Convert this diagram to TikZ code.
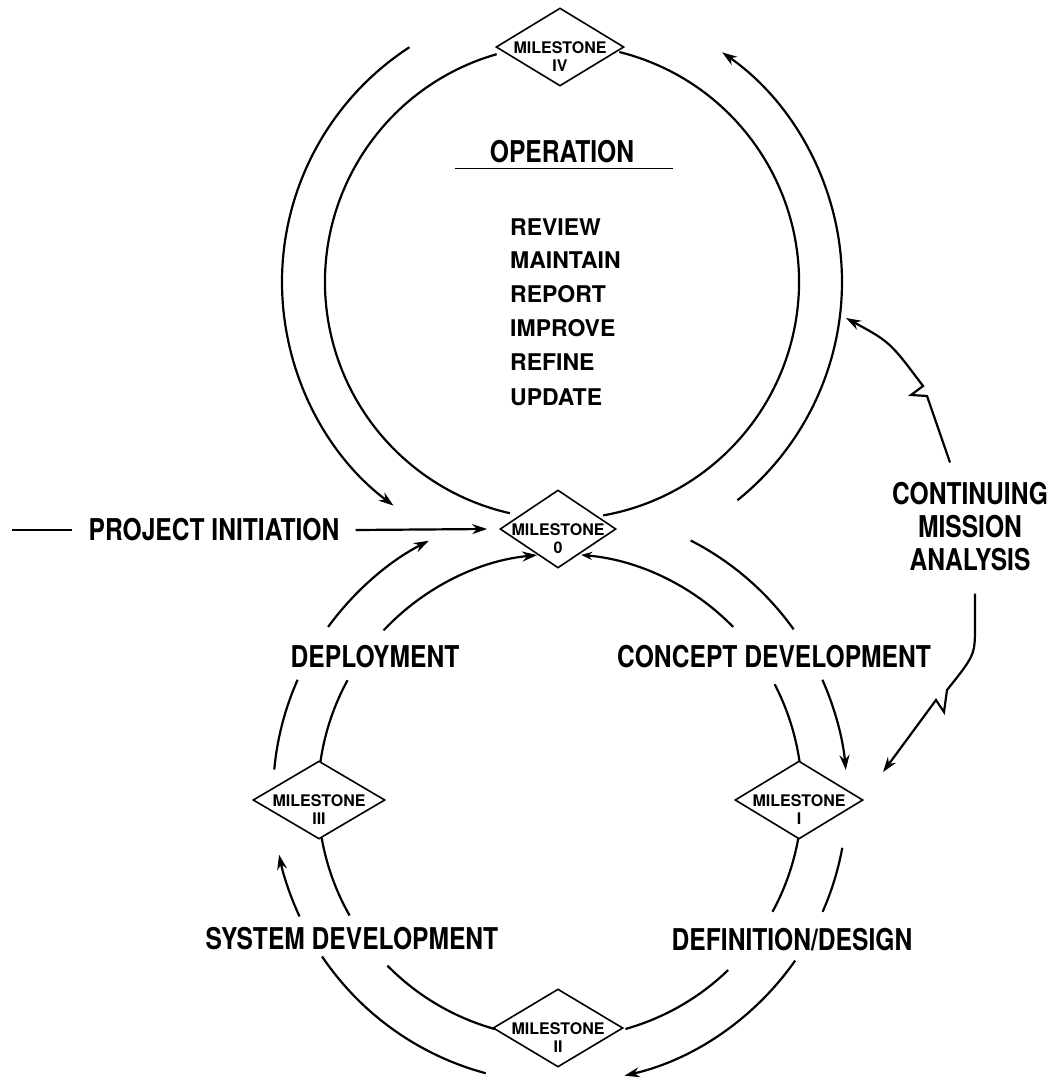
\documentclass[tikz,border=0pt]{standalone}
\usepackage{fontspec}
\usetikzlibrary{shapes.geometric,arrows.meta}
\newfontfamily\hvcond{TeX Gyre Heros}[FakeStretch=0.82]
\newfontfamily\hvnorm{TeX Gyre Heros}
\newcommand\biglab{\hvcond\bfseries\fontsize{30}{33}\selectfont}
\newcommand\lstlab{\hvnorm\bfseries\fontsize{23}{26}\selectfont}
\newcommand\mslab{\hvnorm\bfseries\fontsize{16}{18}\selectfont}
\begin{document}
\begin{tikzpicture}[x=1pt,y=-1pt,
  trk/.style={line width=2.2pt},
  arr/.style={trk,-{Stealth[length=15pt,width=10pt]}},
  rarr/.style={trk,{Stealth[length=11pt,width=8pt]}-},
  ms/.style={draw,diamond,minimum width=128pt,minimum height=78pt,inner sep=0pt,line width=1.6pt},
  mst/.style={font=\mslab,align=center,inner sep=0pt,anchor=base,yshift=-24pt},
  big/.style={font=\biglab,inner sep=0pt},
  lst/.style={font=\lstlab,anchor=west,inner sep=0pt}]
\useasboundingbox (0,0) rectangle (1052,1082);
\coordinate (U) at (562,282);
\coordinate (L) at (560,796);

% milestones
\node[ms] (m4) at (560,47) {};
\node[mst] (m4t) at (m4) {MILESTONE\\IV};
\node[ms,minimum width=116pt] (m0) at (558,529) {};
\node[mst] (m0t) at (m0) {MILESTONE\\0};
\node[ms] (m1) at (799,800) {};
\node[mst] (m1t) at (m1) {MILESTONE\\I};
\node[ms,minimum width=132pt] (m3) at (319,800) {};
\node[mst] (m3t) at (m3) {MILESTONE\\III};
\node[ms,minimum width=130pt] (m2) at (558,1028) {};
\node[mst] (m2t) at (m2) {MILESTONE\\II};

% operation box text
\node[big] (op) at (562,152) {OPERATION};
\draw[line width=1.6pt] ([xshift=-35pt,yshift=-5pt]op.south west) -- ([xshift=39pt,yshift=-5pt]op.south east);
\node[lst] (l1) at (510,227) {REVIEW};
\node[lst] (l2) at (510,260) {MAINTAIN};
\node[lst] (l3) at (510,294) {REPORT};
\node[lst] (l4) at (510,328) {IMPROVE};
\node[lst] (l5) at (510,362) {REFINE};
\node[lst] (l6) at (510,397) {UPDATE};

% phase labels
\node[big] (pi) at (214,530) {PROJECT INITIATION};
\node[big] (dep) at (375,657) {DEPLOYMENT};
\node[big] (cd) at (774,657) {CONCEPT DEVELOPMENT};
\node[big] (sd) at (352,939) {SYSTEM DEVELOPMENT};
\node[big] (dd) at (792,940) {DEFINITION/DESIGN};
\node[big,align=center] (cma) at (970,527) {CONTINUING\\MISSION\\ANALYSIS};

% project initiation
\coordinate (pil) at (12,530);
\draw[trk] (pil) -- ([xshift=-16pt]pi.west);
\draw[arr] ([xshift=16pt]pi.east) -- ([xshift=-12pt]m0.west);

% upper loop, inner track
\draw[trk] (U) ++(254:237) arc[start angle=254,end angle=102.7,radius=237];
\draw[trk] (U) ++(-76:237) arc[start angle=-76,end angle=80,radius=237];
% upper loop, outer track
\draw[arr] (U) ++(237:280) arc[start angle=237,end angle=127,radius=280];
\draw[arr] (U) ++(51.2:280) arc[start angle=51.2,end angle=-55.1,radius=280];

% lower loop, inner track
\draw[arr] (L) ++(223.2:242) arc[start angle=223.2,end angle=264.6,radius=242];
\draw[trk] (L) ++(188.1:242) arc[start angle=188.1,end angle=208.6,radius=242];
\draw[trk] (L) ++(150.4:242) arc[start angle=150.4,end angle=170,radius=242];
\draw[trk] (L) ++(105.6:242) arc[start angle=105.6,end angle=135.5,radius=242];
\draw[trk] (L) ++(46:242) arc[start angle=46,end angle=74.3,radius=242];
\draw[trk] (L) ++(9.9:242) arc[start angle=9.9,end angle=28.6,radius=242];
\draw[trk] (L) ++(-27.5:242) arc[start angle=-27.5,end angle=-8.1,radius=242];
\draw[rarr] (L) ++(-85:242) arc[start angle=-85,end angle=-44.3,radius=242];
% lower loop, outer track
\draw[arr] (L) ++(216.1:287) arc[start angle=216.1,end angle=242.8,radius=287];
\draw[trk] (L) ++(185.3:287) arc[start angle=185.3,end angle=203.9,radius=287];
\draw[arr] (L) ++(155.2:287) arc[start angle=155.2,end angle=168.2,radius=287];
\draw[trk] (L) ++(105:287) arc[start angle=105,end angle=146,radius=287];
\draw[arr] (L) ++(35:287) arc[start angle=35,end angle=77,radius=287];
\draw[trk] (L) ++(10.4:287) arc[start angle=10.4,end angle=23.8,radius=287];
\draw[arr] (L) ++(-23.9:287) arc[start angle=-23.9,end angle=-5.2,radius=287];
\draw[trk] (L) ++(-62.9:287) arc[start angle=-62.9,end angle=-35.5,radius=287];

% continuing mission analysis feedback
\coordinate (cmaU) at (846,318);
\coordinate (cmaL) at (883,772);
\draw[arr] ([xshift=-20pt,yshift=20pt]cma.north) -- (927,396) -- (911,395) -- (923,386)
  .. controls (890,342) .. (cmaU);
\draw[arr] ([xshift=5pt,yshift=-22pt]cma.south) -- (975,625) .. controls (975,655) .. (947,690)
  -- (944,712) -- (936,700) -- (cmaL);
\end{tikzpicture}
\end{document}
